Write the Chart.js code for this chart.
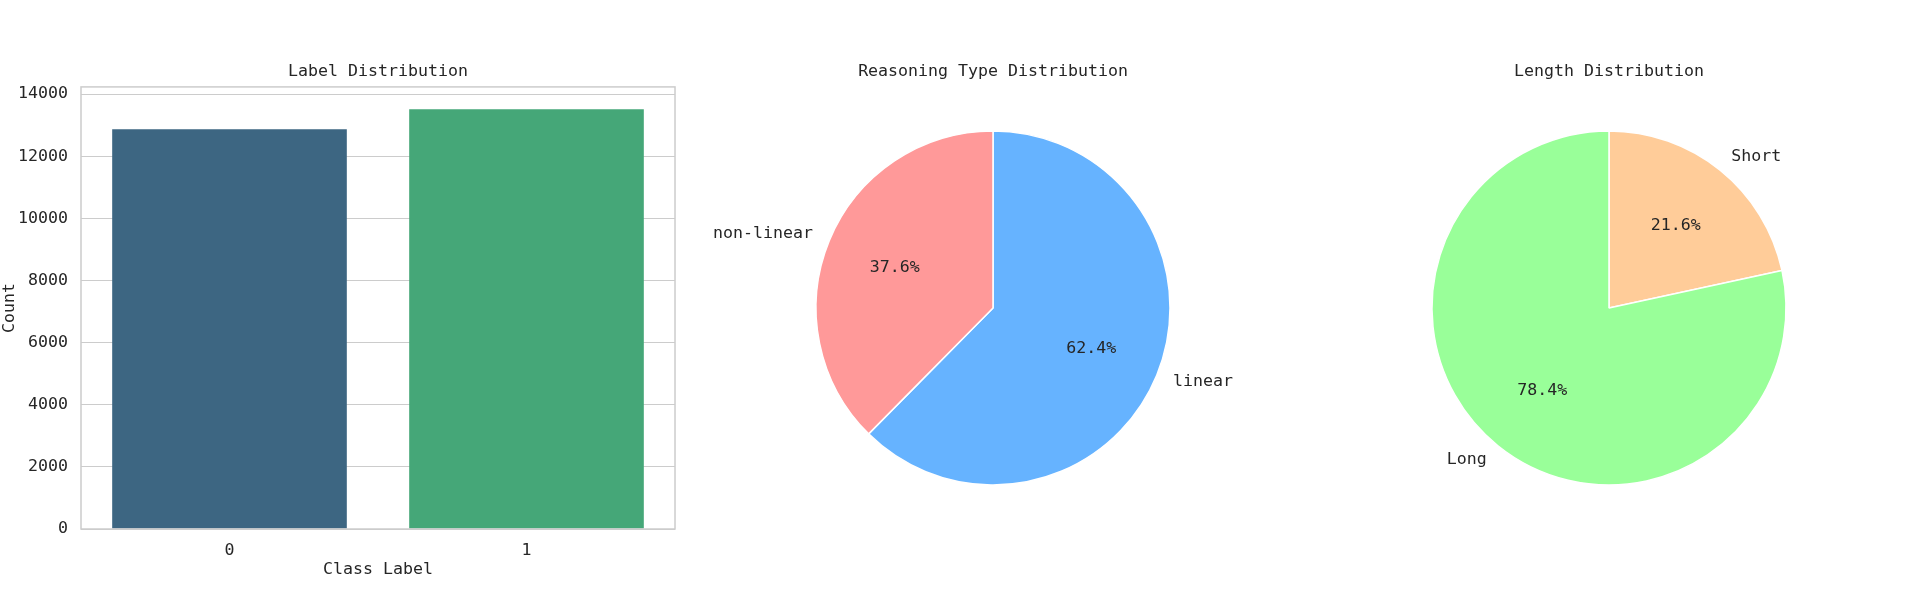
<!DOCTYPE html>
<html>
<head>
<meta charset="utf-8">
<script src="https://cdn.jsdelivr.net/npm/chart.js@4"></script>
<style>
  html, body { margin: 0; padding: 0; background: #fff; }
  body { width: 1923px; height: 600px; position: relative; overflow: hidden; }
  canvas { position: absolute; top: 0; }
  #labelChart { left: 0; }
  #reasonChart { left: 693px; }
  #lengthChart { left: 1309px; }
</style>
</head>
<body>
<canvas id="labelChart" width="756" height="600"></canvas>
<canvas id="reasonChart" width="600" height="600"></canvas>
<canvas id="lengthChart" width="600" height="600"></canvas>
<script>
// label distribution (bar)
const classLabels = ['0', '1']
const classCounts = [12870, 13515]
const barColors = ['#3d6682', '#45a778']
const countTicks = [0, 2000, 4000, 6000, 8000, 10000, 12000, 14000]

// reasoning type (pie) - clockwise from top
const reasonLabels = ['linear', 'non-linear']
const reasonShares = [62.4, 37.6]
const reasonColors = ['#66b3ff', '#ff9999']

// length (pie) - clockwise from top
const lengthLabels = ['Short', 'Long']
const lengthShares = [21.6, 78.4]
const lengthColors = ['#ffcc99', '#99ff99']

const FONT = "'DejaVu Sans Mono', 'Liberation Mono', monospace"
const TEXT = '#262626'
const SIZE = 16.6

Chart.defaults.font.family = FONT
Chart.defaults.font.size = SIZE
Chart.defaults.color = TEXT
Chart.defaults.animation = false

// spines all around the bar plot area
const boxPlugin = {
  id: 'box',
  afterDatasetsDraw(chart) {
    const { ctx, chartArea: a } = chart
    ctx.save()
    ctx.strokeStyle = '#cccccc'
    ctx.lineWidth = 1.5
    ctx.strokeRect(a.left, a.top, a.right - a.left, a.bottom - a.top)
    ctx.restore()
  }
}

// matplotlib-style pie labels (1.1 r) and percentages (0.6 r)
const pieText = {
  id: 'pieText',
  afterDatasetsDraw(chart) {
    const { ctx } = chart
    const meta = chart.getDatasetMeta(0)
    const ds = chart.data.datasets[0]
    ctx.save()
    ctx.font = SIZE + 'px ' + FONT
    ctx.fillStyle = TEXT
    ctx.textBaseline = 'middle'
    meta.data.forEach((arc, i) => {
      const { x, y, startAngle, endAngle, outerRadius } = arc.getProps(['x', 'y', 'startAngle', 'endAngle', 'outerRadius'])
      const mid = (startAngle + endAngle) / 2
      const r = outerRadius
      const cx = Math.cos(mid), cy = Math.sin(mid)
      ctx.textAlign = cx < 0 ? 'right' : 'left'
      ctx.fillText(chart.data.labels[i], x + cx * r * 1.1, y + cy * r * 1.1)
      ctx.textAlign = 'center'
      ctx.fillText(ds.data[i].toFixed(1) + '%', x + cx * r * 0.6, y + cy * r * 0.6)
    })
    ctx.restore()
  }
}

new Chart(document.getElementById('labelChart'), {
  type: 'bar',
  data: {
    labels: classLabels,
    datasets: [{
      data: classCounts,
      backgroundColor: barColors,
      barPercentage: 0.79,
      categoryPercentage: 1.0
    }]
  },
  options: {
    responsive: false,
    layout: { padding: { top: 0, right: 81, bottom: 20, left: 0 } },
    plugins: {
      legend: { display: false },
      tooltip: { enabled: false },
      title: {
        display: true,
        fullSize: false,
        text: 'Label Distribution',
        font: { size: SIZE, weight: 'normal' },
        color: TEXT,
        padding: { top: 62, bottom: 5 }
      }
    },
    scales: {
      x: {
        grid: { display: false },
        border: { display: false },
        ticks: { padding: 4 },
        title: { display: true, text: 'Class Label', padding: 0 },
        afterFit(scale) { scale.height = 51 }
      },
      y: {
        min: 0,
        max: 14230,
        grid: { color: '#cccccc', lineWidth: 1, drawTicks: false },
        border: { display: false },
        ticks: { padding: 13, callback: v => String(v) },
        afterBuildTicks(scale) { scale.ticks = countTicks.map(v => ({ value: v })) },
        title: { display: true, text: 'Count', padding: 0 },
        afterFit(scale) { scale.width = 81 }
      }
    }
  },
  plugins: [boxPlugin]
})

function pieChart(id, labels, shares, colors, title) {
  return new Chart(document.getElementById(id), {
    type: 'pie',
    data: {
      labels: labels,
      datasets: [{
        data: shares,
        backgroundColor: colors,
        borderColor: '#ffffff',
        borderWidth: 1.5
      }]
    },
    options: {
      responsive: false,
      radius: 177,
      layout: { padding: { top: 0, bottom: 66 } },
      plugins: {
        legend: { display: false },
        tooltip: { enabled: false },
        title: {
          display: true,
          text: title,
          font: { size: SIZE, weight: 'normal' },
          color: TEXT,
          padding: { top: 62, bottom: 0 }
        }
      }
    },
    plugins: [pieText]
  })
}

pieChart('reasonChart', reasonLabels, reasonShares, reasonColors, 'Reasoning Type Distribution')
pieChart('lengthChart', lengthLabels, lengthShares, lengthColors, 'Length Distribution')
</script>
</body>
</html>
